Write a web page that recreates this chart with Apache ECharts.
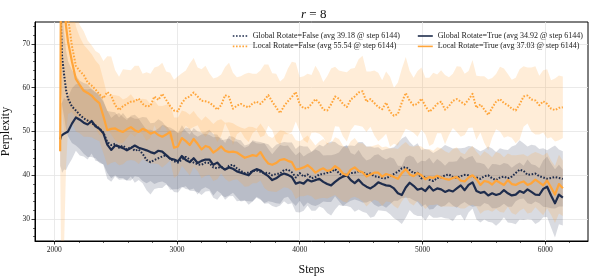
<!DOCTYPE html>
<html><head><meta charset="utf-8">
<script src="https://cdn.jsdelivr.net/npm/echarts@6/dist/echarts.min.js"></script>
<style>html,body{margin:0;padding:0;background:#fff}#c{width:598px;height:276px}</style>
</head><body><div id="c"></div>
<script>
const STEPS = [2048,2056,2064,2080,2096,2112,2144,2176,2208,2240,
2272,2304,2336,2368,2400,2432,2464,2496,2528,2560,
2592,2624,2656,2688,2720,2752,2784,2816,2848,2880,
2912,2944,2976,3008,3040,3072,3104,3136,3168,3200,
3232,3264,3296,3328,3360,3392,3424,3456,3488,3520,
3552,3584,3616,3648,3680,3712,3744,3776,3808,3840,
3872,3904,3936,3968,4000,4032,4064,4096,4128,4160,
4192,4224,4256,4288,4320,4352,4384,4416,4448,4480,
4512,4544,4576,4608,4640,4672,4704,4736,4768,4800,
4832,4864,4896,4928,4960,4992,5024,5056,5088,5120,
5152,5184,5216,5248,5280,5312,5344,5376,5408,5440,
5472,5504,5536,5568,5600,5632,5664,5696,5728,5760,
5792,5824,5856,5888,5920,5952,5984,6016,6048,6080,
6112,6144];

const GF_MEAN = [88,73,67,63,59.5,57.5,55.7,54.8,53.8,53.0,
52.5,51.9,51.4,50.7,49.8,47.6,46.9,47.2,46.3,46.8,
45.9,46.5,45.6,45.9,44.9,43.5,43.0,43.5,43.9,44.3,
44.6,43.8,43.2,42.9,43.6,44.2,43.6,42.9,42.5,42.4,
42.9,42.8,41.8,41.6,42.0,41.2,42.2,42.4,41.6,41.0,
40.5,40.6,40.9,41.1,40.8,40.5,40.6,40.0,40.3,40.4,
41.2,41.3,40.7,39.5,40.5,39.7,40.2,39.3,39.6,40.2,
40.3,40.6,40.8,41.4,40.5,39.8,40.2,40.5,40.6,40.9,
40.7,40.2,40.4,39.8,39.6,39.4,39.3,39.8,40.3,40.8,
41.6,41.9,41.2,40.5,40.6,39.3,39.7,39.0,38.7,39.4,
39.5,40.0,40.2,39.6,39.4,39.8,40.1,40.0,39.7,39.5,
39.2,39.8,40.0,39.3,38.9,39.5,39.7,39.3,39.7,40.5,
41.3,41.0,40.1,40.2,40.4,39.8,39.5,39.2,39.4,39.6,
39.4,39.18];

const GT_MEAN = [48.2,49.0,48.6,49.5,49.2,50.0,51.8,53.2,52.7,52.0,
51.6,52.4,51.2,50.6,49.6,47.0,45.8,46.8,46.6,46.2,
45.7,46.2,46.8,46.3,46.0,45.7,45.3,45.0,45.6,45.4,
44.6,43.8,43.6,43.2,44.4,43.5,43.0,43.9,42.8,43.3,
43.6,43.6,42.4,42.9,41.9,41.3,41.8,41.5,40.9,40.6,
40.3,40.0,41.0,41.4,41.1,40.4,39.8,38.9,39.3,40.0,
40.4,40.1,39.6,38.1,38.4,38.1,39.0,38.6,38.9,39.2,
38.5,38.0,37.7,38.5,39.2,39.7,40.0,38.9,38.2,39.0,
38.0,37.4,37.0,37.6,38.4,38.0,37.7,37.6,37.0,35.9,
35.5,37.2,38.3,37.6,36.7,37.0,36.4,37.5,36.5,37.0,
36.8,36.2,36.6,36.3,37.0,37.7,36.6,37.8,38.4,36.4,
36.0,36.2,35.4,35.9,35.5,35.8,36.6,35.9,35.4,35.6,
36.4,36.0,36.8,36.2,35.6,35.5,36.9,37.4,35.4,33.6,
35.6,34.92];

const LF_MEAN = [130,118,105,92,82,76,69.5,65.0,63.8,62.9,
61.2,60.5,59.6,58.5,57.6,59.0,58.2,56.0,54.9,55.8,
56.3,56.8,56.9,57.5,56.3,55.7,55.9,58.0,57.2,58.6,
57.2,55.8,54.8,54.6,56.5,57.6,58.0,58.9,58.0,57.0,
56.9,56.6,55.9,55.0,56.0,58.3,57.9,55.2,55.9,56.3,
55.8,55.5,56.4,56.8,56.3,57.2,58.3,56.8,55.5,54.2,
55.8,56.9,57.9,59.0,56.2,55.3,55.3,56.3,57.4,56.5,
55.0,54.8,56.2,58.0,57.5,56.3,55.6,57.3,58.0,58.9,
59.2,56.8,57.4,56.5,55.6,55.1,56.6,54.5,53.6,54.0,
56.6,58.8,57.0,56.0,56.3,57.5,55.8,54.5,55.3,56.3,
56.8,55.0,55.8,57.0,57.4,56.8,56.2,57.3,58.6,55.4,
56.2,55.0,53.8,55.4,56.8,57.4,56.5,56.0,55.2,54.8,
56.2,58.0,58.2,57.3,57.1,56.0,56.9,56.3,55.2,54.9,
55.4,55.54];

const LT_MEAN = [45.5,95,88,80,74,70.5,66.0,62.0,60.6,59.3,
58.8,58.2,57.2,56.5,53.5,50.3,50.6,50.7,50.2,49.9,
50.5,51.0,50.3,49.9,50.6,50.2,49.5,49.9,49.2,48.8,
49.3,49.9,46.3,46.6,48.5,47.8,46.9,48.3,47.2,45.9,
46.7,46.4,45.2,45.8,46.6,45.6,45.3,45.4,45.2,44.6,
44.0,44.3,44.6,44.4,45.3,43.8,42.7,42.4,42.8,43.5,
43.7,43.3,43.0,41.3,41.5,41.8,42.3,41.6,40.6,41.2,
41.6,41.0,41.2,42.1,41.5,40.4,40.0,41.3,41.8,41.0,
40.7,39.7,40.2,40.6,40.6,39.7,40.3,40.0,39.6,39.2,
40.5,41.4,40.2,39.8,40.5,40.0,39.1,39.6,39.4,39.9,
39.5,39.2,39.0,39.4,39.6,38.8,38.6,39.5,40.0,39.1,
37.8,38.7,38.5,37.9,38.8,38.3,37.8,38.9,38.0,37.8,
38.3,38.6,37.8,38.2,39.0,38.4,37.7,38.8,37.2,35.6,
38.0,37.03];

const GF_STD = [18,14,11,9.5,9.0,8.6,8.3,8.0,7.8,8.1,
8.3,7.7,7.5,7.9,7.3,7.1,7.6,7.2,6.9,7.4,
7.1,6.8,7.3,7.0,6.7,6.9,7.4,6.6,6.8,7.2,
6.7,6.5,7.0,6.8,6.4,6.7,7.1,6.5,6.3,6.9,
6.6,6.4,6.9,7.2,6.5,6.2,6.8,6.4,6.6,7.0,
6.3,6.5,6.9,6.2,6.4,6.8,6.5,6.1,6.7,6.9,
6.4,6.2,6.8,6.5,6.3,6.9,6.4,6.1,6.6,6.8,
6.3,6.7,6.9,6.2,6.4,6.8,6.5,6.3,6.1,6.7,
6.9,6.4,6.2,6.5,6.8,6.3,6.7,6.4,6.1,6.6,
6.8,7.0,6.4,6.2,6.7,6.5,6.3,6.8,6.4,6.2,
6.7,6.9,6.3,6.5,6.8,6.4,6.2,6.7,6.9,6.5,
6.3,6.1,6.6,6.8,6.4,6.7,6.2,6.5,6.9,6.4,
6.7,6.3,6.5,6.8,6.4,6.2,6.7,6.5,6.9,7.2,
6.5,6.3];

const GT_STD = [6.0,7.5,8.0,8.2,8.0,7.8,8.1,7.6,8.2,7.7,
8.0,7.4,7.9,7.5,7.2,7.8,7.3,7.0,7.6,7.1,
6.9,7.4,7.0,6.7,7.3,7.5,6.6,7.0,7.2,6.8,
6.5,7.1,6.8,6.4,7.0,6.6,6.3,6.9,7.2,6.5,
6.3,6.8,7.0,6.4,6.1,6.9,6.6,6.2,6.8,6.4,
6.0,6.7,7.0,6.3,6.5,6.9,6.2,5.9,6.6,6.9,
6.3,6.7,6.0,6.5,6.9,6.2,5.9,6.7,7.0,6.3,
6.0,6.6,6.9,6.3,6.0,6.7,7.0,6.2,6.5,6.8,
6.3,6.0,6.7,7.0,6.4,6.1,5.9,6.5,6.8,6.3,
6.6,6.9,6.2,6.5,6.0,6.3,6.8,6.5,6.2,6.7,
6.3,6.0,6.5,6.8,6.2,6.7,7.0,6.3,6.0,6.5,
6.8,6.3,6.0,6.7,7.0,6.5,6.2,6.7,6.3,6.8,
6.5,6.2,6.8,6.3,6.7,6.1,6.5,6.9,7.3,7.8,
6.8,6.4];

const LF_STD = [60,55,50,42,32,22,15,12,10.5,10.0,
9.6,9.2,8.8,9.3,8.5,8.2,8.9,8.0,7.6,8.4,
7.8,7.2,8.1,7.5,6.9,7.8,7.3,6.6,7.7,7.1,
6.5,7.6,7.0,8.0,6.8,6.3,7.5,7.9,6.6,7.2,
8.1,6.7,6.2,7.4,7.0,6.4,7.8,8.2,6.5,6.3,
7.3,7.9,6.8,6.4,7.6,8.1,7.0,6.5,7.7,7.2,
6.4,7.5,8.0,6.7,6.2,7.3,7.9,6.6,7.6,7.0,
6.3,7.8,8.2,6.8,6.4,7.4,7.9,7.0,6.5,7.6,
8.1,6.9,6.3,7.4,7.8,6.6,7.1,8.0,6.4,7.2,
7.7,8.2,6.8,6.3,7.5,7.1,6.5,7.8,8.1,6.7,
7.2,7.9,6.6,6.2,7.5,8.0,7.0,6.5,7.7,7.3,
6.4,7.6,8.1,6.8,6.3,7.4,7.9,7.1,6.6,7.5,
8.0,6.9,6.4,7.3,7.8,6.7,7.1,7.9,6.5,7.2,
7.4,7.0];

const LT_STD = [2.0,75,66,56,32,20,14,12,11,10.5,
10.0,9.5,9.0,8.7,8.4,8.0,7.8,7.6,7.9,7.4,
7.2,7.5,7.0,7.3,6.9,7.1,6.8,7.2,6.7,7.0,
6.8,6.5,6.9,6.6,6.3,6.7,6.9,6.4,6.2,6.6,
6.8,6.3,6.5,6.7,6.2,6.4,6.8,6.5,6.1,6.3,
6.6,6.8,6.4,6.2,6.5,6.7,6.3,6.1,6.6,6.8,
6.4,6.2,6.5,6.7,6.3,6.6,6.8,6.4,6.2,6.5,
6.7,6.3,6.1,6.6,6.8,6.4,6.2,6.5,6.7,6.3,
6.6,6.8,6.4,6.2,6.5,6.7,6.3,6.1,6.6,6.8,
6.4,6.2,6.5,6.7,6.3,6.6,6.8,6.4,6.2,6.5,
6.7,6.3,6.1,6.6,6.8,6.4,6.2,6.5,6.7,6.3,
6.6,6.8,6.4,6.2,6.5,6.7,6.3,6.1,6.6,6.8,
6.4,6.2,6.5,6.7,6.3,6.6,6.8,6.4,6.2,6.5,
6.7,6.3];

const FINAL_AVG = {GF: '39.18', GT: '34.92', LF: '55.54', LT: '37.03'};
const FINAL_STEP = 6144;
const X_TICKS = [2000, 3000, 4000, 5000, 6000];
const X_MINOR = [2200,2400,2600,2800,3200,3400,3600,3800,4200,4400,4600,4800,5200,5400,5600,5800,6200];
const Y_TICKS = [30, 40, 50, 60, 70];
const Y_MINOR = [26,28,32,34,36,38,42,44,46,48,52,54,56,58,62,64,66,68,72,74];

const FONT = 'Liberation Serif';
const NAVY = '#1e2c4c';
const ORANGE = '#ffa53a';
const NAVY_BAND = 'rgba(30,44,76,0.17)';
const ORANGE_BAND = 'rgba(255,165,58,0.2)';

const NAME = {
  GF: `Global Rotate=False (avg ${FINAL_AVG.GF} @ step ${FINAL_STEP})`,
  GT: `Global Rotate=True (avg ${FINAL_AVG.GT} @ step ${FINAL_STEP})`,
  LF: `Local Rotate=False (avg ${FINAL_AVG.LF} @ step ${FINAL_STEP})`,
  LT: `Local Rotate=True (avg ${FINAL_AVG.LT} @ step ${FINAL_STEP})`
};

function pairs(ys) { return STEPS.map((s, i) => [s, ys[i]]); }
function band(key, mean, std, color) {
  const data = STEPS.map((s, i) => [s, mean[i] - std[i], mean[i] + std[i]]);
  return {
    type: 'custom', name: key + '_band', data: data, silent: true, z: 1, animation: false,
    encode: {x: 0, y: [1, 2]},
    renderItem: function (params, api) {
      if (params.dataIndex !== 0) return null;
      const up = [], lo = [];
      for (let i = 0; i < data.length; i++) {
        up.push(api.coord([data[i][0], data[i][2]]));
        lo.push(api.coord([data[i][0], data[i][1]]));
      }
      const cs = params.coordSys;
      return {
        type: 'group',
        clipPath: {type: 'rect', shape: {x: cs.x, y: cs.y, width: cs.width, height: cs.height}},
        children: [{type: 'polygon', shape: {points: up.concat(lo.reverse())}, style: {fill: color}}]
      };
    }
  };
}
function line(key, mean, color, dotted) {
  return {type: 'line', name: NAME[key], data: pairs(mean), symbol: 'none', z: 3, animation: false,
    itemStyle: {color: color},
    lineStyle: {color: color, width: dotted ? 2.0 : 2.2, type: dotted ? [1.6, 1.6] : 'solid', join: 'round'}};
}

const chart = echarts.init(document.getElementById('c'), null, {renderer: 'canvas'});
const legendCommon = {orient: 'vertical', top: 27, itemWidth: 15, itemHeight: 8, itemGap: 2.4,
  itemStyle: {opacity: 0, borderWidth: 0},
  lineStyle: {width: 1.6},
  textStyle: {fontFamily: FONT, fontSize: 8, color: '#222'}, selectedMode: false};

chart.setOption({
  backgroundColor: '#fff',
  animation: false,
  title: {text: '{i|r} = 8', left: 296, top: 3,
    textStyle: {fontFamily: FONT, fontSize: 13, fontWeight: 'normal', color: '#111',
      rich: {i: {fontFamily: FONT, fontSize: 13, fontStyle: 'italic', color: '#111'}}}},
  grid: {left: 35, right: 10, top: 22, bottom: 35, containLabel: false, outerBoundsMode: 'none',
    show: true, borderColor: '#000', borderWidth: 1, backgroundColor: 'transparent'},
  legend: [
    Object.assign({left: 227, data: [NAME.GF, NAME.LF]}, legendCommon),
    Object.assign({left: 412, data: [NAME.GT, NAME.LT]}, legendCommon)
  ],
  xAxis: [
    {type: 'value', min: 1843, max: 6349, position: 'bottom',
     name: 'Steps', nameLocation: 'middle', nameGap: 23,
     nameTextStyle: {fontFamily: FONT, fontSize: 12, color: '#111'},
     axisLine: {show: true, lineStyle: {color: '#000', width: 1}},
     axisTick: {show: true, length: 3.5, customValues: X_TICKS, lineStyle: {color: '#000', width: 0.8}},
     axisLabel: {customValues: X_TICKS, formatter: v => String(v), fontFamily: FONT, fontSize: 7.5, color: '#222', margin: 5},
     splitLine: {show: true, lineStyle: {color: '#e4e4e4', width: 0.8}}},
    {type: 'value', min: 1843, max: 6349, position: 'bottom',
     axisLine: {show: false}, axisLabel: {show: false}, splitLine: {show: false},
     axisTick: {show: true, length: 2, customValues: X_MINOR, lineStyle: {color: '#000', width: 0.6}}}
  ],
  yAxis: [
    {type: 'value', min: 25, max: 75, position: 'left',
     name: 'Perplexity', nameLocation: 'middle', nameGap: 23,
     nameTextStyle: {fontFamily: FONT, fontSize: 12, color: '#111'},
     axisLine: {show: true, lineStyle: {color: '#000', width: 1}},
     axisTick: {show: true, length: 3.5, customValues: Y_TICKS, lineStyle: {color: '#000', width: 0.8}},
     axisLabel: {customValues: Y_TICKS, formatter: v => String(v), fontFamily: FONT, fontSize: 7.5, color: '#222', margin: 5},
     splitLine: {show: true, lineStyle: {color: '#e4e4e4', width: 0.8}}},
    {type: 'value', min: 25, max: 75, position: 'left',
     axisLine: {show: false}, axisLabel: {show: false}, splitLine: {show: false},
     axisTick: {show: true, length: 2, customValues: Y_MINOR, lineStyle: {color: '#000', width: 0.6}}}
  ],
  series: [
    band('GF', GF_MEAN, GF_STD, NAVY_BAND),
    band('GT', GT_MEAN, GT_STD, NAVY_BAND),
    band('LF', LF_MEAN, LF_STD, ORANGE_BAND),
    band('LT', LT_MEAN, LT_STD, ORANGE_BAND),
    line('GF', GF_MEAN, NAVY, true), line('GT', GT_MEAN, NAVY, false),
    line('LF', LF_MEAN, ORANGE, true), line('LT', LT_MEAN, ORANGE, false)
  ]
});
</script></body></html>
